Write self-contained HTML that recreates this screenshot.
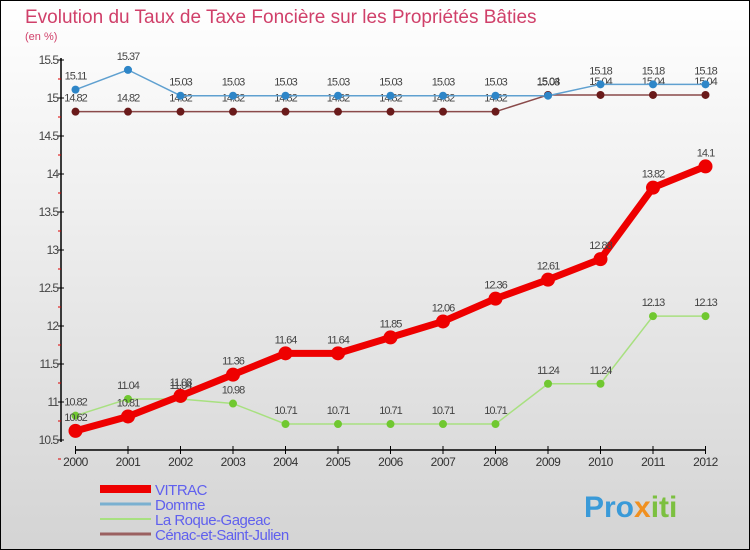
<!DOCTYPE html>
<html><head><meta charset="utf-8"><style>
body{margin:0}
#c{width:750px;height:550px;position:relative;overflow:hidden;font-family:"Liberation Sans",sans-serif;}
</style></head><body>
<div id="c">
<svg id="s" width="750" height="550" xmlns="http://www.w3.org/2000/svg">
<defs><linearGradient id="bg" x1="0" y1="0" x2="0" y2="1"><stop offset="0" stop-color="#ffffff"/><stop offset="1" stop-color="#d4d4d4"/></linearGradient></defs>
<rect x="0.5" y="0.5" width="749" height="549" fill="url(#bg)" stroke="#000"/>
<text x="25" y="23" font-size="19" fill="#d0406a">Evolution du Taux de Taxe Foncière sur les Propriétés Bâties</text>
<text x="25" y="40" font-size="11" fill="#d0406a">(en %)</text>
<g id="axes"></g>
<g id="series"></g>
<g id="legend"></g>
<text x="584" y="517" font-size="30" font-weight="bold" fill="#3a9ad8">Pro<tspan fill="#f09020">x</tspan><tspan fill="#7cc040">iti</tspan></text>
</svg>
</div>
<script>
const years=[2000,2001,2002,2003,2004,2005,2006,2007,2008,2009,2010,2011,2012];
const yTicks=[10.5,11,11.5,12,12.5,13,13.5,14,14.5,15,15.5];
const vitrac=[10.62,10.81,11.08,11.36,11.64,11.64,11.85,12.06,12.36,12.61,12.88,13.82,14.1];
const domme=[15.11,15.37,15.03,15.03,15.03,15.03,15.03,15.03,15.03,15.03,15.18,15.18,15.18];
const roque=[10.82,11.04,11.04,10.98,10.71,10.71,10.71,10.71,10.71,11.24,11.24,12.13,12.13];
const cenac=[14.82,14.82,14.82,14.82,14.82,14.82,14.82,14.82,14.82,15.04,15.04,15.04,15.04];
const NS="http://www.w3.org/2000/svg";
const X=i=>75.5+i*52.5;
const Y=v=>440-(v-10.5)*76;
function el(t,a,p){const e=document.createElementNS(NS,t);for(const k in a)e.setAttribute(k,a[k]);p.appendChild(e);return e;}
const ax=document.getElementById('axes');
let yl=el('line',{x1:61,y1:58,x2:61,y2:442,stroke:'#000','stroke-width':1.5},ax);


yTicks.forEach(v=>{
 el('line',{x1:58,x2:64,y1:Y(v),y2:Y(v),stroke:'#000'},ax);
 el('line',{x1:58,x2:61,y1:Y(v)+19,y2:Y(v)+19,stroke:'#d00'},ax);
 const t=el('text',{x:58,y:Y(v)+4,'text-anchor':'end','font-size':12,fill:'#444','letter-spacing':'-1'},ax);
 t.textContent=v;
 
 
});
let xl=el('line',{x1:75,y1:450,x2:706,y2:450,stroke:'#000','stroke-width':1.5},ax);


years.forEach((y,i)=>{
 el('line',{x1:X(i),x2:X(i),y1:446,y2:454,stroke:'#000'},ax);
 const t=el('text',{x:X(i),y:466,'text-anchor':'middle','font-size':12,fill:'#333','letter-spacing':'-0.5'},ax);
 t.textContent=y;
 
 
});
const sg=document.getElementById('series');
function series(name,vals,color,w,r,dot){
 const g=el('g',{},sg);
 
 
 el('polyline',{points:vals.map((v,i)=>X(i)+','+Y(v)).join(' '),fill:'none',stroke:color,'stroke-width':w,'stroke-linejoin':'round'},g);
 vals.forEach((v,i)=>{
  const c=el('circle',{cx:X(i),cy:Y(v),r:r,fill:dot},g);
  
  
  const t=el('text',{x:X(i),y:Y(v)-10,'text-anchor':'middle','font-size':11,fill:'#444','letter-spacing':'-1'},g);
  t.textContent=v;
  
  
 });
}
series('cenac',cenac,'#8a4a4a',1.5,4,'#6a1a1a');
series('domme',domme,'#5fa0d0',1.5,4,'#2e86c8');
series('roque',roque,'#a8e080',1.5,4,'#70c830');
series('vitrac',vitrac,'#ee0000',7,7,'#ee0000');
const lg=document.getElementById('legend');
const lnames=['VITRAC','Domme','La Roque-Gageac','Cénac-et-Saint-Julien'];
const lcolors=['#ee0000','#7ab0d0','#a8e080','#9a6060'];
const lw=[8,3,2,3];
lnames.forEach((n,i)=>{
 const y=492+i*15;
 const g=el('g',{},lg);
 
 
 el('line',{x1:100,x2:151,y1:y-3,y2:y-3,stroke:lcolors[i],'stroke-width':lw[i]},g);
 const t=el('text',{x:155,y:y+3,'font-size':15,fill:'#6060ee','letter-spacing':'-0.5'},g);
 t.textContent=n;
});
</script>
</body></html>
